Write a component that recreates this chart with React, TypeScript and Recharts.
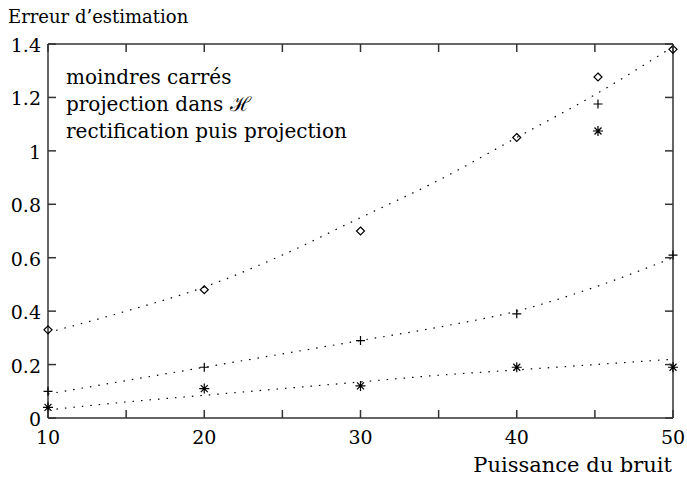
import { ComposedChart, Line, Scatter, XAxis, YAxis } from 'recharts';

const xPoints = [10, 20, 30, 40, 50];
const moindres = [0.33, 0.48, 0.7, 1.05, 1.38];
const projection = [0.1, 0.19, 0.29, 0.39, 0.61];
const rectification = [0.04, 0.11, 0.12, 0.19, 0.19];

const fitX = [10, 15, 20, 25, 30, 35, 40, 45, 50];
const moindresFit = [0.32, 0.4, 0.49, 0.61, 0.75, 0.89, 1.05, 1.21, 1.39];
const projectionFit = [0.09, 0.14, 0.19, 0.24, 0.29, 0.34, 0.4, 0.49, 0.6];
const rectificationFit = [0.03, 0.06, 0.085, 0.11, 0.135, 0.16, 0.18, 0.2, 0.22];

const xTicks = [10, 15, 20, 25, 30, 35, 40, 45, 50];
const yTicks = [0, 0.2, 0.4, 0.6, 0.8, 1, 1.2, 1.4];
const seriesNames = ['moindres carrés', 'projection dans \u210B', 'rectification puis projection'];

const FONT = '"DejaVu Serif", serif';
const AXIS = '#333';
const INK = '#000';

const pts = (ys: number[]) => xPoints.map((x, i) => ({ x, y: ys[i] }));
const fit = (ys: number[]) => fitX.map((x, i) => ({ x, y: ys[i] }));

function Diamond({ cx, cy }: any) {
  const r = 4;
  return <path d={`M${cx},${cy - r}L${cx + r},${cy}L${cx},${cy + r}L${cx - r},${cy}Z`} fill="none" stroke={INK} strokeWidth={1.2} />;
}

function Plus({ cx, cy }: any) {
  const r = 4.5;
  return <path d={`M${cx - r},${cy}H${cx + r}M${cx},${cy - r}V${cy + r}`} stroke={INK} strokeWidth={1.2} />;
}

function Star({ cx, cy }: any) {
  const r = 5;
  const d = 3.5;
  return (
    <path
      d={`M${cx - r},${cy}H${cx + r}M${cx},${cy - r}V${cy + r}M${cx - d},${cy - d}L${cx + d},${cy + d}M${cx - d},${cy + d}L${cx + d},${cy - d}`}
      stroke={INK}
      strokeWidth={1.2}
    />
  );
}

const markers = [Diamond, Plus, Star];

function BottomTick({ x, y, payload }: any) {
  return (
    <g>
      <line x1={x} y1={y} x2={x} y2={y - 8} stroke={AXIS} strokeWidth={1.5} />
      {payload.value % 10 === 0 && (
        <text x={x} y={y + 26} textAnchor="middle" fontFamily={FONT} fontSize={19} fill={INK}>
          {payload.value}
        </text>
      )}
    </g>
  );
}

function TopTick({ x, y }: any) {
  return <line x1={x} y1={y} x2={x} y2={y + 8} stroke={AXIS} strokeWidth={1.5} />;
}

function LeftTick({ x, y, payload }: any) {
  return (
    <g>
      <line x1={x} y1={y} x2={x + 8} y2={y} stroke={AXIS} strokeWidth={1.5} />
      <text x={x - 7} y={y + 8} textAnchor="end" fontFamily={FONT} fontSize={19} fill={INK}>
        {payload.value}
      </text>
    </g>
  );
}

function RightTick({ x, y }: any) {
  return <line x1={x} y1={y} x2={x - 8} y2={y} stroke={AXIS} strokeWidth={1.5} />;
}

function LegendBox() {
  return (
    <div style={{ position: 'absolute', left: 66, top: 63, width: 538, fontFamily: FONT, fontSize: 20, color: INK }}>
      {seriesNames.map((name, i) => {
        const M = markers[i];
        return (
          <div key={name} style={{ display: 'flex', justifyContent: 'space-between', alignItems: 'center', height: 27 }}>
            <span style={{ whiteSpace: 'nowrap' }}>{name}</span>
            <svg width={12} height={12}>
              <M cx={6} cy={6} />
            </svg>
          </div>
        );
      })}
    </div>
  );
}

export default function App() {
  const axisLine = { stroke: AXIS, strokeWidth: 1.5 };
  return (
    <div style={{ position: 'absolute', left: 0, top: 0, width: 687, height: 482, background: '#fff' }}>
      <ComposedChart width={687} height={482} margin={{ top: 43, right: 13, left: 0, bottom: 34 }}>
        <XAxis
          xAxisId="bottom"
          type="number"
          dataKey="x"
          domain={[10, 50]}
          ticks={xTicks}
          height={30}
          tickLine={false}
          tickSize={0}
          tickMargin={0}
          axisLine={axisLine}
          tick={<BottomTick />}
        />
        <XAxis
          xAxisId="top"
          orientation="top"
          type="number"
          dataKey="x"
          domain={[10, 50]}
          ticks={xTicks}
          height={1}
          tickLine={false}
          tickSize={0}
          tickMargin={0}
          axisLine={axisLine}
          tick={<TopTick />}
        />
        <YAxis
          yAxisId="left"
          type="number"
          domain={[0, 1.4]}
          ticks={yTicks}
          width={48}
          tickLine={false}
          tickSize={0}
          tickMargin={0}
          axisLine={axisLine}
          tick={<LeftTick />}
        />
        <YAxis
          yAxisId="right"
          orientation="right"
          type="number"
          domain={[0, 1.4]}
          ticks={yTicks}
          width={1}
          tickLine={false}
          tickSize={0}
          tickMargin={0}
          axisLine={axisLine}
          tick={<RightTick />}
        />
        <Line xAxisId="top" yAxisId="right" data={fit(moindresFit)} dataKey="y" stroke="none" dot={false} legendType="none" isAnimationActive={false} />
        <Line xAxisId="bottom" yAxisId="left" data={fit(moindresFit)} dataKey="y" stroke={INK} strokeWidth={1.2} strokeDasharray="1.5 7" dot={false} type="monotone" isAnimationActive={false} />
        <Line xAxisId="bottom" yAxisId="left" data={fit(projectionFit)} dataKey="y" stroke={INK} strokeWidth={1.2} strokeDasharray="1.5 7" dot={false} type="monotone" isAnimationActive={false} />
        <Line xAxisId="bottom" yAxisId="left" data={fit(rectificationFit)} dataKey="y" stroke={INK} strokeWidth={1.2} strokeDasharray="1.5 7" dot={false} type="monotone" isAnimationActive={false} />
        <Scatter xAxisId="bottom" yAxisId="left" name={seriesNames[0]} data={pts(moindres)} dataKey="y" shape={<Diamond />} isAnimationActive={false} />
        <Scatter xAxisId="bottom" yAxisId="left" name={seriesNames[1]} data={pts(projection)} dataKey="y" shape={<Plus />} isAnimationActive={false} />
        <Scatter xAxisId="bottom" yAxisId="left" name={seriesNames[2]} data={pts(rectification)} dataKey="y" shape={<Star />} isAnimationActive={false} />
      </ComposedChart>
      <LegendBox />
      <div style={{ position: 'absolute', left: 8, top: 6, fontFamily: FONT, fontSize: 18, color: INK, whiteSpace: 'nowrap' }}>
        Erreur d’estimation
      </div>
      <div style={{ position: 'absolute', right: 15, top: 453, fontFamily: FONT, fontSize: 21, color: INK, whiteSpace: 'nowrap' }}>
        Puissance du bruit
      </div>
    </div>
  );
}
